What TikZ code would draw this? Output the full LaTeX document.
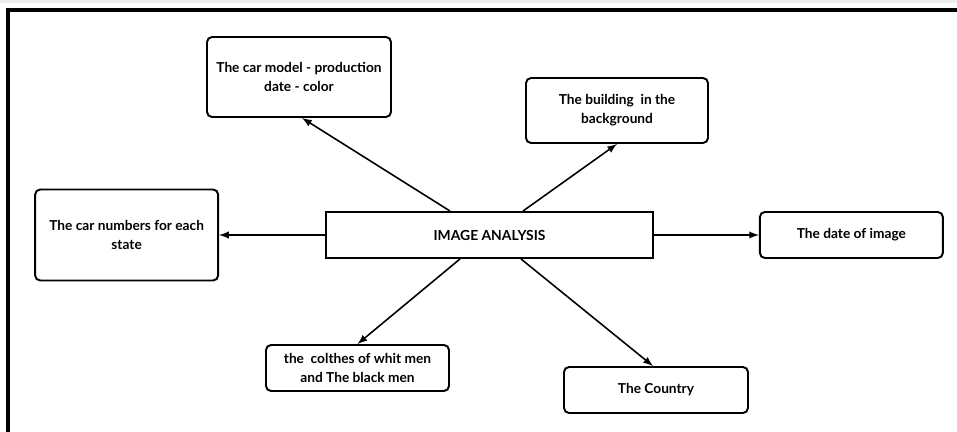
\documentclass[tikz,border=0pt]{standalone}
\usepackage{fontspec}
\setmainfont{Lato}
\usepackage{tikz}
\usetikzlibrary{
	arrows,
	positioning
}

\tikzset{
	topic/.style={draw, rectangle, rounded corners=0.1cm, line width=1.1pt, align=center, inner sep=0pt, minimum width=3.66cm, minimum height=0.92cm, font=\fontsize{7.8}{10.8}\selectfont\bfseries},
	hub/.style={draw, rectangle, line width=1.1pt, inner sep=0pt, minimum width=6.54cm, minimum height=0.92cm, font=\fontsize{7.9}{10.8}\selectfont\bfseries},
	link/.style={->, >=latex, line width=0.9pt}
}

\begin{document}
\begin{tikzpicture}[x=0.02cm, y=-0.02cm, node distance=2cm and 2.1cm]
	\useasboundingbox (0,0) rectangle (957,432);
	\fill[black!7] (0,0) rectangle (957,3); % strip of the screenshot above
	\draw[line width=2.3pt] (960,10) -- (8,10) -- (8,440); % outer frame

	\node[hub] (IA) at (489.5,235) {IMAGE ANALYSIS};
	\node[topic, minimum width=3.68cm, minimum height=1.6cm] (model) at (299,77) {The car model - production\\date - color};
	\node[topic, minimum width=3.64cm, minimum height=1.3cm] (building) at (617,110.5) {The building\ \ in the\\background};
	\node[topic, minimum height=1.82cm, left=2.12cm of IA] (numbers) {The car numbers for each\\state};
	\node[topic, right=2.1cm of IA] (date) {The date of image};
	\node[topic] (clothes) at (357.5,368) {the\ \ colthes of whit men\\and The black men};
	\node[topic, minimum width=3.68cm] (country) at (656,390) {The Country};

	\draw[link] ([xshift=-0.79cm]IA.north) -- ([xshift=0.06cm]model.south);
	\draw[link] ([xshift=0.67cm]IA.north) -- (building.south);
	\draw[link] (IA.west) -- (numbers.east);
	\draw[link] (IA.east) -- (date.west);
	\draw[link] ([xshift=-0.59cm]IA.south) -- (clothes.north);
	\draw[link] ([xshift=0.63cm]IA.south) -- ([xshift=-0.06cm]country.north);
\end{tikzpicture}
\end{document}
